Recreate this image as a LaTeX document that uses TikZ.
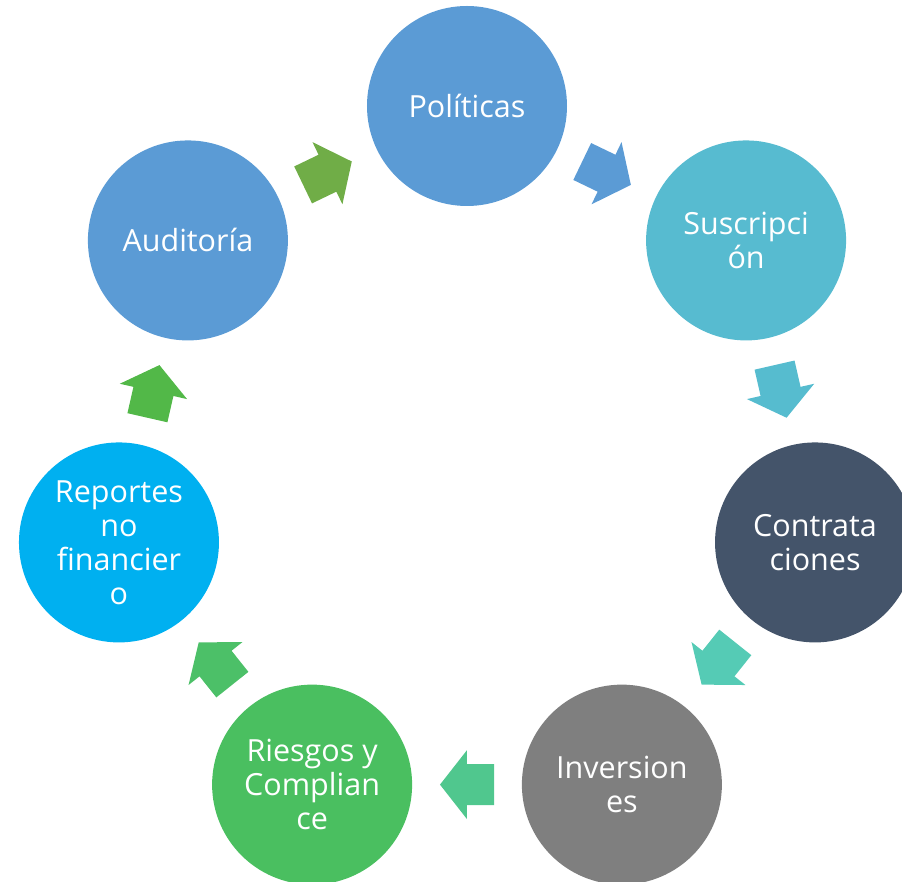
\documentclass[tikz,border=0pt]{standalone}
\usepackage{fontspec}
\setmainfont{Open Sans}
\usetikzlibrary{calc}
\definecolor{cPol}{HTML}{5B9BD5}
\definecolor{cSus}{HTML}{57BBD0}
\definecolor{cCon}{HTML}{44546A}
\definecolor{cInv}{HTML}{7F7F7F}
\definecolor{cRie}{HTML}{4ABF60}
\definecolor{cRep}{HTML}{00B0F0}
\definecolor{cAud}{HTML}{5B9BD5}
\definecolor{aA}{HTML}{5B9BD5}
\definecolor{aB}{HTML}{56BCCF}
\definecolor{aC}{HTML}{55CBB5}
\definecolor{aD}{HTML}{50C78E}
\definecolor{aE}{HTML}{4CC068}
\definecolor{aF}{HTML}{52B848}
\definecolor{aG}{HTML}{70AD47}
\tikzset{
  stage/.style={circle, minimum size=200pt, inner sep=0pt, fill=#1, text=white,
    align=center, font=\fontsize{30.5}{34}\selectfont},
}
\begin{document}
\begin{tikzpicture}[x=1pt,y=1pt]
\useasboundingbox (-467,-419) rectangle (435,463);
\node[stage=cPol] (n0) at (90:357) {Políticas};
\node[stage=cSus] (n1) at (38.571:357) {Suscripci\\ón};
\node[stage=cCon] (n2) at (-12.857:357) {Contrata\\ciones};
\node[stage=cInv] (n3) at (-64.286:357) {Inversion\\es};
\node[stage=cRie] (n4) at (-115.714:357) {Riesgos y\\Complian\\ce};
\node[stage=cRep] (n5) at (-167.143:357) {Reportes\\no\\financier\\o};
\node[stage=cAud] (n6) at (141.429:357) {Auditoría};
\foreach \a/\b/\ang/\col in {n0/n1/64.286/aA, n1/n2/12.857/aB, n2/n3/-38.571/aC,
    n3/n4/-90/aD, n4/n5/-141.429/aE, n5/n6/-192.857/aF, n6/n0/115.714/aG}{
  \begin{scope}[shift={($(\a.center)!0.5!(\b.center)$)}, rotate=\ang-90]
    \fill[\col] (-27,20.5) -- (0,20.5) -- (0,34.5) -- (27,0) -- (0,-34.5) -- (0,-20.5) -- (-27,-20.5) -- cycle;
  \end{scope}
}
\end{tikzpicture}
\end{document}
